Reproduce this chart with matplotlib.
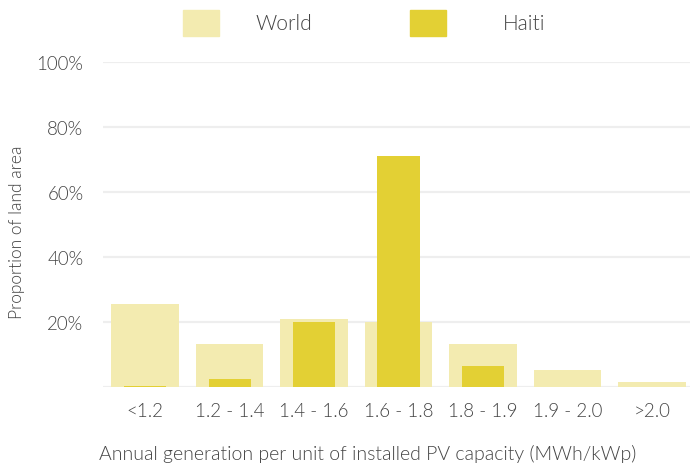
import matplotlib.pyplot as plt
from matplotlib.patches import Rectangle

# données
categories = ['<1.2', '1.2 - 1.4', '1.4 - 1.6', '1.6 - 1.8', '1.8 - 1.9', '1.9 - 2.0', '>2.0']
world = [25.5, 13.3, 21.0, 20.0, 13.3, 5.2, 1.5]
haiti = [0.2, 2.5, 20.1, 71.1, 6.6, 0.0, 0.0]
yticks = [20, 40, 60, 80, 100]

c_world = '#f3ebb0'
c_haiti = '#e3d034'
c_text = '#444444'

plt.rcParams['font.family'] = ['Lato', 'DejaVu Sans']
plt.rcParams['font.weight'] = 300

W, H = 690, 464
fig = plt.figure(figsize=(6.9, 4.64), dpi=100)
ax = fig.add_axes([103 / W, 76 / H, 587 / W, 325 / H])

x = list(range(len(categories)))
ax.bar(x, world, width=0.8, color=c_world, zorder=2)
ax.bar(x, haiti, width=0.5, color=c_haiti, zorder=3)

ax.set_xlim(-0.5, 6.45)
ax.set_ylim(0, 100)
ax.set_yticks([0] + yticks)
ax.set_yticklabels([''] + ['%d%%' % v for v in yticks])
ax.set_xticks(x)
ax.set_xticklabels(categories)
ax.tick_params(length=0, labelsize=13.5, colors=c_text, pad=11)
ax.tick_params(axis='y', pad=14)
ax.grid(axis='y', color='#eeeeee', linewidth=1.6, zorder=0)
for s in ax.spines.values():
    s.set_visible(False)

ax.set_xlabel('Annual generation per unit of installed PV capacity (MWh/kWp)', fontsize=14, color=c_text,
              fontweight=300)
ax.xaxis.set_label_coords(0.451, -0.175)
ax.set_ylabel('Proportion of land area', fontsize=12.5, color=c_text, fontweight=300)
ax.yaxis.set_label_coords(-0.133, 0.48)

# légende dessinée à la main
for x0, col, lab, tx in [(183, c_world, 'World', 256), (410, c_haiti, 'Haiti', 503)]:
    fig.patches.append(Rectangle((x0 / W, 1 - 37 / H), 36 / W, 26 / H, transform=fig.transFigure,
                                 color=col, figure=fig))
    fig.text(tx / W, 1 - 24 / H, lab, fontsize=15, color=c_text, va='center', ha='left', fontweight=300)

fig.savefig('out.png', dpi=100)
